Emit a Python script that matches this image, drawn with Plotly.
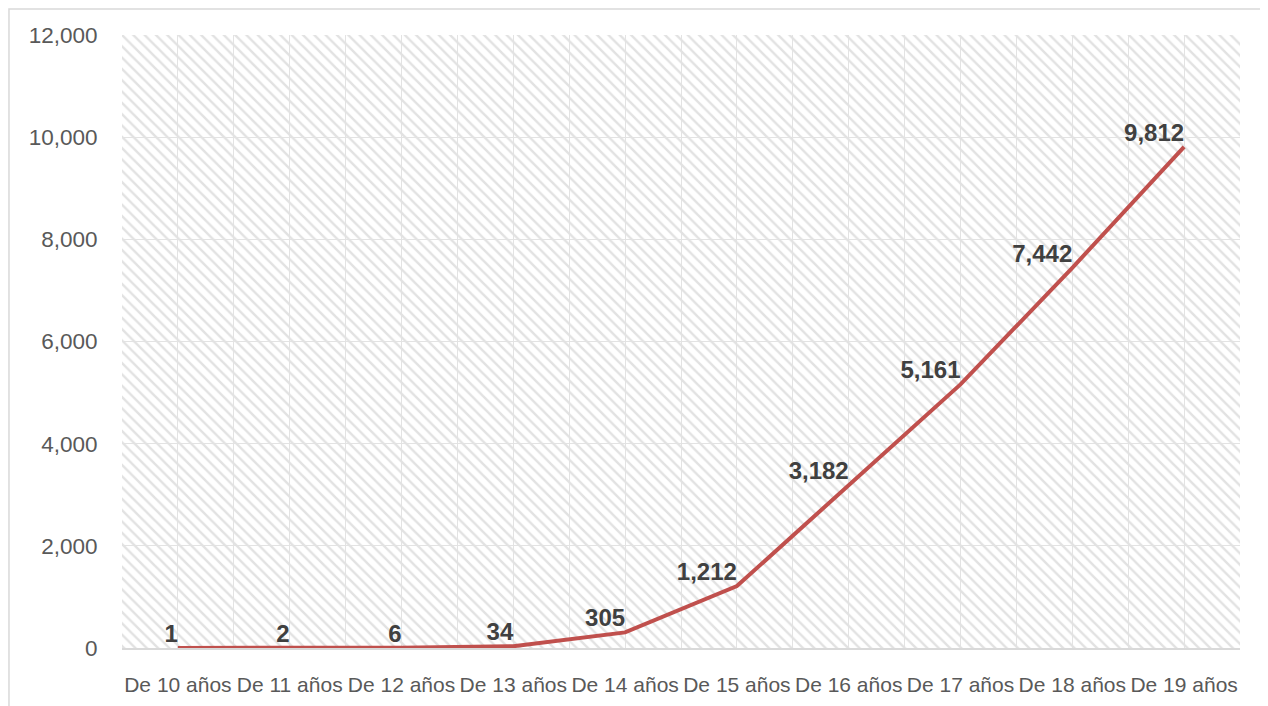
import plotly.graph_objects as go

categories = ["De 10 años", "De 11 años", "De 12 años", "De 13 años", "De 14 años",
              "De 15 años", "De 16 años", "De 17 años", "De 18 años", "De 19 años"]
values = [1, 2, 6, 34, 305, 1212, 3182, 5161, 7442, 9812]
label_text = ["1", "2", "6", "34", "305", "1,212", "3,182", "5,161", "7,442", "9,812"]
y_ticks = [0, 2000, 4000, 6000, 8000, 10000, 12000]
Y_MAX = 12000

idx = list(range(len(categories)))
boundaries = [i - 0.5 for i in range(len(categories) + 1)]

fig = go.Figure()

# hatched plot-area background
fig.add_trace(go.Bar(
    x=idx, y=[Y_MAX] * len(idx), width=1,
    marker=dict(color="rgba(0,0,0,0)", line=dict(width=0),
                pattern=dict(shape="\\", fgcolor="#E2E2E2", bgcolor="rgba(0,0,0,0)",
                             size=8, solidity=0.3, fillmode="replace")),
    hoverinfo="skip", showlegend=False,
))

fig.add_trace(go.Scatter(
    x=idx, y=values, mode="lines+text",
    line=dict(color="#C0504D", width=4),
    text=label_text, textposition="top left",
    textfont=dict(family="Liberation Sans, Arial", size=24, color="#404040", weight="bold"),
    showlegend=False, cliponaxis=False,
))

fig.update_layout(
    width=1268, height=706,
    margin=dict(l=114, r=36, t=27, b=66),
    paper_bgcolor="white", plot_bgcolor="white",
    font=dict(family="Liberation Sans, Arial", color="#595959", size=20),
    bargap=0,
    shapes=[dict(type="rect", xref="paper", yref="paper",
                 x0=-0.1011, x1=1.0197, y0=-0.15, y1=1.0424,
                 line=dict(color="#D9D9D9", width=1.5), layer="below")],
)

fig.update_xaxes(
    range=[-0.5, len(categories) - 0.5],
    tickvals=idx, ticktext=categories,
    showgrid=True, gridcolor="#E3E3E3", gridwidth=1,
    minor=dict(tickvals=boundaries, showgrid=True, gridcolor="#E3E3E3", gridwidth=1),
    showline=True, linecolor="#D9D9D9", linewidth=1.5,
    ticks="outside", ticklen=17, tickcolor="rgba(0,0,0,0)",
    tickfont=dict(size=21, color="#595959"),
    zeroline=False,
)
fig.update_yaxes(
    range=[0, Y_MAX], tickvals=y_ticks, tickformat=",",
    showgrid=True, gridcolor="#E3E3E3", gridwidth=1,
    zeroline=False, showline=False,
    ticks="outside", ticklen=19, tickcolor="rgba(0,0,0,0)",
    tickfont=dict(size=22.5, color="#595959"),
)

fig.write_html("out.html")
